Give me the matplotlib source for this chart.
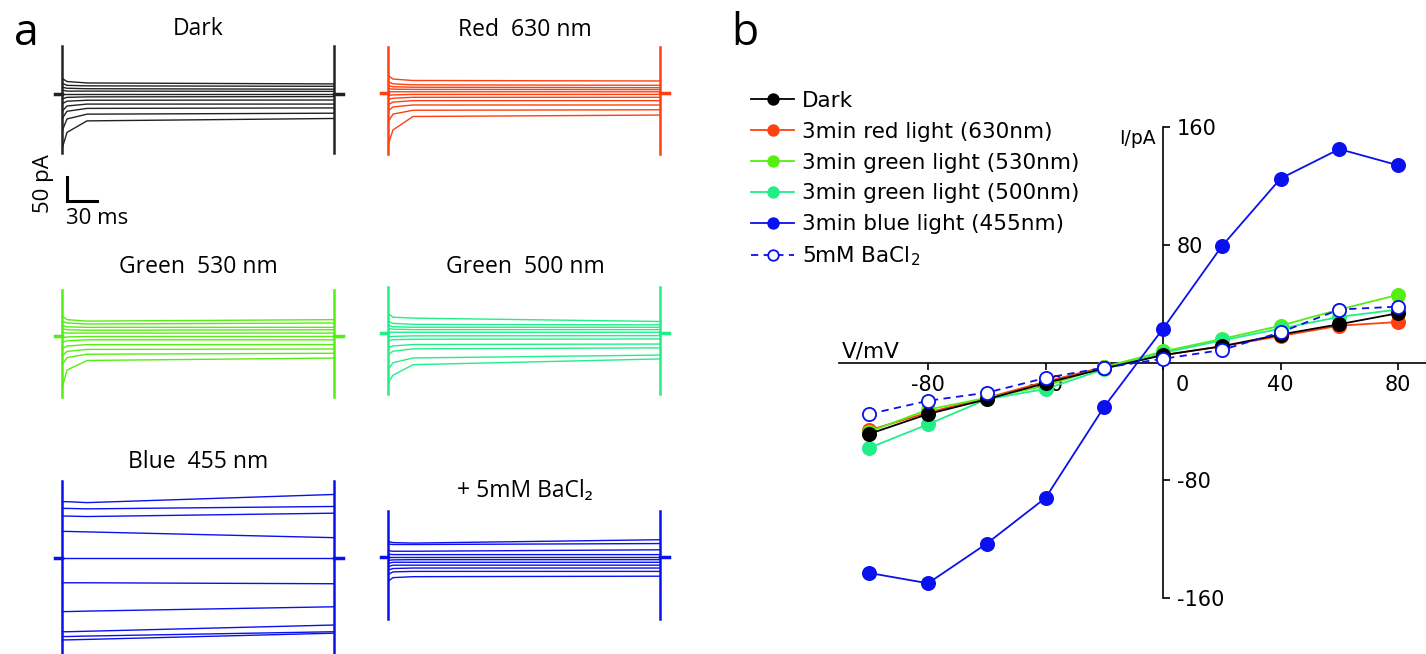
import matplotlib
matplotlib.use("Agg")
import matplotlib.pyplot as plt
import matplotlib.transforms as mtransforms

plt.rcParams['font.family'] = ['DejaVu Sans']
plt.rcParams['mathtext.default'] = 'regular'
plt.rcParams['axes.unicode_minus'] = False

W, H = 1426, 654

# ---- panel a: current traces (pA) at 4 time points (ms) ----
t_pts = [0.5, 5, 25, 272]
t_end = 272

dark_onset = [32, 22, 14, 8, 0, -10, -20, -35, -50, -75, -111]
dark_early = [26, 18, 12, 6, 0, -7, -15, -25, -36, -52, -80]
dark_settle = [23, 17, 11, 6, 0, -6, -13, -21, -30, -42, -56]
dark_end = [21, 16, 10, 5.5, 0, -5.5, -12.5, -21, -29, -40, -51]

red_onset = [35, 22, 14, 8, 2, -6, -14, -25, -38, -60, -106]
red_early = [28, 18, 12, 7, 1.5, -5, -12, -20, -30, -45, -78]
red_settle = [25, 16, 11, 6.5, 1.5, -4, -10, -17, -26, -37, -50]
red_end = [24, 15, 10, 6, 1.5, -4, -10, -17, -26, -36, -47]

g530_onset = [40, 30, 21, 14, 6, -4, -14, -27, -42, -60, -106]
g530_early = [33, 26, 18, 12, 5, -3, -11, -22, -33, -46, -72]
g530_settle = [30, 24, 17, 11, 5, -2, -9, -19, -29, -39, -52]
g530_end = [33, 26, 17, 12, 5, -2, -9, -19, -28, -37, -47]

g500_onset = [40, 24, 16, 9, 2, -8, -16, -30, -45, -75, -103]
g500_early = [33, 20, 13, 8, 1.5, -7, -14, -27, -38, -62, -88]
g500_settle = [31, 18, 12, 7, 1.5, -6, -13, -24, -33, -52, -66]
g500_end = [24, 17, 12, 7, 1.5, -5.5, -12.5, -23, -31, -46, -54]

blue_onset = [118, 104, 88, 56, 0, -51, -111, -153, -163, -170]
blue_early = [118, 104, 88, 56, 0, -51, -111, -153, -163, -170]
blue_settle = [116, 103, 87, 55, 0, -51, -110, -152, -162, -169]
blue_end = [133, 108, 94, 43, 0, -53, -101, -139, -153, -156]

ba_onset = [32, 27, 13, 6, 0, -7, -13, -20, -27, -36, -50]
ba_early = [30, 26, 12, 5, 0, -6, -11, -17, -24, -31, -43]
ba_settle = [29, 26, 12, 5, 0, -5.6, -11, -17, -23, -30, -41]
ba_end = [36, 28, 15, 5, 0, -5.6, -11, -17, -23, -30, -40]

# ---- panel b: I-V curves ----
voltage = [-100, -80, -60, -40, -20, 0, 20, 40, 60, 80]
iv_dark = [-48.5, -35, -25, -14, -4, 5, 11, 19, 26, 33.5]
iv_red = [-46, -34, -24, -13, -3, 5, 11, 18, 25, 27.5]
iv_g530 = [-47, -32, -24, -16, -3, 7.5, 16, 25, 36, 46]
iv_g500 = [-58, -42, -25, -18, -4.5, 6.5, 15, 23, 31, 36]
iv_blue = [-143, -150, -123, -92, -30, 23, 79, 125, 145, 134]
iv_ba = [-35, -26, -20.5, -10.5, -3.5, 2.5, 8.5, 20.5, 36, 38]

c_dark = '#000000'
c_red = '#ff4010'
c_g530 = '#55ee11'
c_g500 = '#22ee88'
c_blue = '#0a10ee'

fig = plt.figure(figsize=(W / 100, H / 100), dpi=100)

def px_rect(left, top, width, height):
    return [left / W, 1 - (top + height) / H, width / W, height / H]

def fig_xy(x, y):
    return x / W, 1 - y / H

PPA = 0.48  # px per pA

def trace_panel(x0, hold, color, onset, early, settle, end, spike):
    ax = fig.add_axes(px_rect(x0 - 12, hold - 170 * PPA, 300, 450 * PPA))
    ax.set_xlim(-12, 288)
    ax.set_ylim(-280, 170)
    for vals in zip(onset, early, settle, end):
        ax.plot(t_pts, vals, color=color, lw=1.0)
    ax.plot([0, 0], spike, color=color, lw=1.8)
    ax.plot([t_end, t_end], spike, color=color, lw=1.8)
    ax.plot([-7, 0], [0, 0], color=color, lw=2.5)
    ax.plot([t_end, t_end + 9], [0, 0], color=color, lw=2.5)
    ax.axis('off')
    return ax

ax_dark = trace_panel(62, 94, '#222222', dark_onset, dark_early, dark_settle, dark_end, [-123, 100])
trace_panel(388, 92.5, c_red, red_onset, red_early, red_settle, red_end, [-129, 95])
trace_panel(62, 335.5, c_g530, g530_onset, g530_early, g530_settle, g530_end, [-129, 95])
trace_panel(388, 333, c_g500, g500_onset, g500_early, g500_settle, g500_end, [-128, 95])
trace_panel(62, 558.3, c_blue, blue_onset, blue_early, blue_settle, blue_end, [-260, 160])
trace_panel(388, 557, c_blue, ba_onset, ba_early, ba_settle, ba_end, [-129, 96])

# scale bar: 50 pA / 30 ms
ax_dark.plot([5, 5, 35], [-173, -223, -223], color='black', lw=2.2, clip_on=False,
             solid_joinstyle='miter')

afont = ['Open Sans', 'DejaVu Sans']
fig.text(*fig_xy(44, 184), '50 pA', rotation=90, ha='center', va='center', fontsize=16, family=afont)
fig.text(*fig_xy(97, 219), '30 ms', ha='center', va='center', fontsize=16, family=afont)

titles = [('Dark', 198, 29), ('Red  630 nm', 525, 30), ('Green  530 nm', 198, 267),
          ('Green  500 nm', 525, 267), ('Blue  455 nm', 198, 462), ('+ 5mM BaCl\u2082', 525, 491)]
for txt, x, y in titles:
    fig.text(*fig_xy(x, y), txt, ha='center', va='center', fontsize=16.5, family=afont)

fig.text(*fig_xy(26, 34), 'a', ha='center', va='center', fontsize=32, family=afont)
fig.text(*fig_xy(745, 34), 'b', ha='center', va='center', fontsize=32, family=afont)

# ---- panel b axes ----
axb = fig.add_axes(px_rect(839, 127, 587, 471))
axb.set_xlim(-110.3, 89.5)
axb.set_ylim(-160, 160)

kw = dict(lw=1.3, marker='o', ms=9.5, mew=1.3, clip_on=False)
axb.plot(voltage, iv_dark, color=c_dark, label='Dark', zorder=5, **kw)
axb.plot(voltage, iv_red, color=c_red, label='3min red light (630nm)', zorder=3, **kw)
axb.plot(voltage, iv_g530, color=c_g530, label='3min green light (530nm)', zorder=3, **kw)
axb.plot(voltage, iv_g500, color=c_g500, label='3min green light (500nm)', zorder=4, **kw)
axb.plot(voltage, iv_blue, color=c_blue, label='3min blue light (455nm)', zorder=5, **kw)
axb.plot(voltage, iv_ba, color=c_blue, ls=(0, (4, 3)), mfc='white', mec=c_blue,
         label='5mM BaCl$_2$', zorder=6, **kw)

for s in ['left', 'top']:
    axb.spines[s].set_visible(False)
axb.spines['right'].set_position(('data', 0))
axb.spines['bottom'].set_position(('data', 0))
axb.spines['right'].set_linewidth(1.2)
axb.spines['bottom'].set_linewidth(1.2)
axb.yaxis.tick_right()
axb.set_yticks([-160, -80, 80, 160])
axb.set_xticks([-80, -40, 0, 40, 80])
axb.tick_params(axis='y', direction='out', length=5, width=1.2, pad=5, labelsize=15)
axb.tick_params(axis='x', direction='out', length=5, width=1.2, pad=4, labelsize=15)
zero_lab = axb.get_xticklabels()[2]
zero_lab.set_transform(zero_lab.get_transform() +
                       mtransforms.ScaledTranslation(14 / 72, 0, fig.dpi_scale_trans))

fig.text(*fig_xy(842, 352), 'V/mV', ha='left', va='center', fontsize=15.5)
fig.text(*fig_xy(1156, 139), 'I/pA', ha='right', va='center', fontsize=13.5)

axb.legend(loc='upper left', bbox_to_anchor=fig_xy(751, 91), bbox_transform=fig.transFigure,
           frameon=False, fontsize=15.5, handlelength=2.0, handletextpad=0.37,
           labelspacing=0.5, borderpad=0, borderaxespad=0, markerscale=0.8)

fig.savefig('out.png', dpi=100)
